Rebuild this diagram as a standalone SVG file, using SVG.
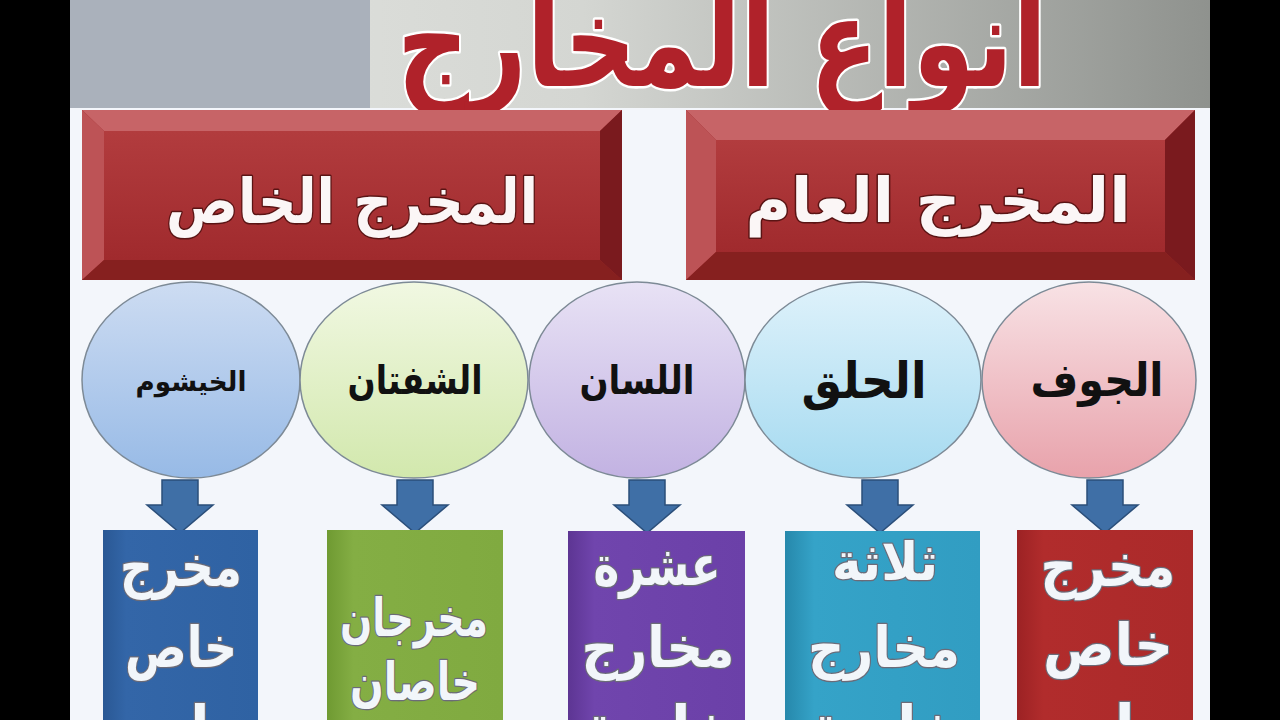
<svg xmlns="http://www.w3.org/2000/svg" width="1280" height="720" viewBox="0 0 1280 720">
<defs>
<style>
.ar{font-family:"DejaVu Sans","Noto Sans",sans-serif;font-weight:bold;text-anchor:middle}
.title{fill:#b0222a;stroke:#fff;stroke-width:5;paint-order:stroke;stroke-linejoin:round}
.hdr{fill:#fbf6f6;stroke:#5a1414;stroke-width:3;paint-order:stroke;stroke-linejoin:round}
.cir{fill:#111}
.box{fill:#f2f6fa;stroke:#6b6b78;stroke-width:2.5;paint-order:stroke;stroke-linejoin:round}
.circle{stroke:#7d8a96;stroke-width:1.5}
.arrow{fill:#3f6fa6;stroke:#2b4f7a;stroke-width:1.5}
</style>
<linearGradient id="hdrBg" x1="0" y1="0" x2="1" y2="0">
<stop offset="0" stop-color="#e3e5e1"/><stop offset="0.45" stop-color="#d4d6d2"/><stop offset="1" stop-color="#8f928e"/>
</linearGradient>
<linearGradient id="face" x1="0" y1="0" x2="0" y2="1">
<stop offset="0" stop-color="#b23c3e"/><stop offset="1" stop-color="#a02a2d"/>
</linearGradient>
<linearGradient id="gBlue" x1="0" y1="0" x2="0" y2="1"><stop offset="0" stop-color="#cddcf2"/><stop offset="1" stop-color="#97bae6"/></linearGradient>
<linearGradient id="gGreen" x1="0" y1="0" x2="0" y2="1"><stop offset="0" stop-color="#f1f8e2"/><stop offset="1" stop-color="#d2e8ad"/></linearGradient>
<linearGradient id="gPurple" x1="0" y1="0" x2="0" y2="1"><stop offset="0" stop-color="#e8e2f5"/><stop offset="1" stop-color="#c2b2e2"/></linearGradient>
<linearGradient id="gCyan" x1="0" y1="0" x2="0" y2="1"><stop offset="0" stop-color="#dff2fb"/><stop offset="1" stop-color="#a5daf0"/></linearGradient>
<linearGradient id="gPink" x1="0" y1="0" x2="0" y2="1"><stop offset="0" stop-color="#f8e2e5"/><stop offset="1" stop-color="#e8a2ab"/></linearGradient>
<linearGradient id="bBlue" x1="0" y1="0" x2="1" y2="0"><stop offset="0" stop-color="#2a5894"/><stop offset="0.15" stop-color="#3366a8"/><stop offset="1" stop-color="#2f62a3"/></linearGradient>
<linearGradient id="bGreen" x1="0" y1="0" x2="1" y2="0"><stop offset="0" stop-color="#6f9a32"/><stop offset="0.15" stop-color="#84ae44"/><stop offset="1" stop-color="#80aa40"/></linearGradient>
<linearGradient id="bPurple" x1="0" y1="0" x2="1" y2="0"><stop offset="0" stop-color="#5d3593"/><stop offset="0.15" stop-color="#7045ad"/><stop offset="1" stop-color="#6b40a8"/></linearGradient>
<linearGradient id="bTeal" x1="0" y1="0" x2="1" y2="0"><stop offset="0" stop-color="#2688ab"/><stop offset="0.15" stop-color="#35a3c8"/><stop offset="1" stop-color="#319dc2"/></linearGradient>
<linearGradient id="bRed" x1="0" y1="0" x2="1" y2="0"><stop offset="0" stop-color="#9c2224"/><stop offset="0.15" stop-color="#b12c2c"/><stop offset="1" stop-color="#ab2a2a"/></linearGradient>
</defs>

<rect x="0" y="0" width="1280" height="720" fill="#000"/>
<rect x="70" y="0" width="1140" height="720" fill="#f3f6fb"/>
<rect x="70" y="0" width="1140" height="108" fill="url(#hdrBg)"/>
<rect x="70" y="0" width="300" height="108" fill="#aab1bb"/>

<g id="title">
<text class="ar title" x="722" y="86" font-size="125" textLength="650" lengthAdjust="spacingAndGlyphs">أنواع المخارج</text>
</g>

<g id="node-special">
<rect x="82" y="110" width="540" height="170" fill="#9a2a2d"/>
<polygon points="82,110 622,110 600,131 104,131" fill="#c76467"/>
<polygon points="82,110 104,131 104,260 82,280" fill="#bd5356"/>
<polygon points="622,110 622,280 600,260 600,131" fill="#7a1a1e"/>
<polygon points="82,280 104,260 600,260 622,280" fill="#86201f"/>
<rect x="104" y="131" width="496" height="129" fill="url(#face)"/>
<text class="ar hdr" x="352" y="223" font-size="62" textLength="372" lengthAdjust="spacingAndGlyphs">المخرج الخاص</text>
</g>

<g id="node-general">
<rect x="686" y="110" width="509" height="170" fill="#9a2a2d"/>
<polygon points="686,110 1195,110 1165,140 716,140" fill="#c76467"/>
<polygon points="686,110 716,140 716,252 686,280" fill="#bd5356"/>
<polygon points="1195,110 1195,280 1165,252 1165,140" fill="#7a1a1e"/>
<polygon points="686,280 716,252 1165,252 1195,280" fill="#86201f"/>
<rect x="716" y="140" width="449" height="112" fill="url(#face)"/>
<text class="ar hdr" x="938" y="222" font-size="62" textLength="385" lengthAdjust="spacingAndGlyphs">المخرج العام</text>
</g>

<g id="node-khayshum">
<ellipse class="circle" cx="191" cy="380" rx="109" ry="98" fill="url(#gBlue)"/>
<text class="ar cir" x="191" y="391" font-size="27" textLength="111" lengthAdjust="spacingAndGlyphs">الخيشوم</text>
</g>
<g id="node-shafatan">
<ellipse class="circle" cx="414" cy="380" rx="114" ry="98" fill="url(#gGreen)"/>
<text class="ar cir" x="415" y="394" font-size="40" textLength="135" lengthAdjust="spacingAndGlyphs">الشفتان</text>
</g>
<g id="node-lisan">
<ellipse class="circle" cx="637" cy="380" rx="108" ry="98" fill="url(#gPurple)"/>
<text class="ar cir" x="637" y="394" font-size="40" textLength="115" lengthAdjust="spacingAndGlyphs">اللسان</text>
</g>
<g id="node-halq">
<ellipse class="circle" cx="863" cy="380" rx="118" ry="98" fill="url(#gCyan)"/>
<text class="ar cir" x="864" y="398" font-size="50" textLength="125" lengthAdjust="spacingAndGlyphs">الحلق</text>
</g>
<g id="node-jawf">
<ellipse class="circle" cx="1089" cy="380" rx="107" ry="98" fill="url(#gPink)"/>
<text class="ar cir" x="1097" y="396" font-size="46" textLength="133" lengthAdjust="spacingAndGlyphs">الجوف</text>
</g>

<g id="connectors">
<polygon class="arrow" points="162,480 198,480 198,505 213,505 180,533 147,505 162,505"/>
<polygon class="arrow" points="397,480 433,480 433,505 448,505 415,533 382,505 397,505"/>
<polygon class="arrow" points="629,480 665,480 665,505 680,505 647,533 614,505 629,505"/>
<polygon class="arrow" points="862,480 898,480 898,505 913,505 880,533 847,505 862,505"/>
<polygon class="arrow" points="1087,480 1123,480 1123,505 1138,505 1105,533 1072,505 1087,505"/>
</g>

<g id="box-khayshum">
<rect x="103" y="530" width="155" height="200" fill="url(#bBlue)"/>
<text class="ar box" x="181" y="586" font-size="56" textLength="122" lengthAdjust="spacingAndGlyphs">مخرج</text>
<text class="ar box" x="181" y="667" font-size="56" textLength="112" lengthAdjust="spacingAndGlyphs">خاص</text>
<text class="ar box" x="181" y="746" font-size="56">واحد</text>
</g>
<g id="box-shafatan">
<rect x="327" y="530" width="176" height="200" fill="url(#bGreen)"/>
<text class="ar box" x="414" y="636" font-size="52" textLength="148" lengthAdjust="spacingAndGlyphs">مخرجان</text>
<text class="ar box" x="415" y="700" font-size="52" textLength="130" lengthAdjust="spacingAndGlyphs">خاصان</text>
</g>
<g id="box-lisan">
<rect x="568" y="531" width="177" height="200" fill="url(#bPurple)"/>
<text class="ar box" x="657" y="585" font-size="56" textLength="127" lengthAdjust="spacingAndGlyphs">عشرة</text>
<text class="ar box" x="658" y="667" font-size="56" textLength="153" lengthAdjust="spacingAndGlyphs">مخارج</text>
<text class="ar box" x="658" y="746" font-size="56">خاصة</text>
</g>
<g id="box-halq">
<rect x="785" y="531" width="195" height="200" fill="url(#bTeal)"/>
<text class="ar box" x="885" y="580" font-size="52" textLength="106" lengthAdjust="spacingAndGlyphs">ثلاثة</text>
<text class="ar box" x="884" y="667" font-size="56" textLength="152" lengthAdjust="spacingAndGlyphs">مخارج</text>
<text class="ar box" x="884" y="746" font-size="56">خاصة</text>
</g>
<g id="box-jawf">
<rect x="1017" y="530" width="176" height="200" fill="url(#bRed)"/>
<text class="ar box" x="1108" y="586" font-size="58" textLength="135" lengthAdjust="spacingAndGlyphs">مخرج</text>
<text class="ar box" x="1108" y="665" font-size="58" textLength="130" lengthAdjust="spacingAndGlyphs">خاص</text>
<text class="ar box" x="1105" y="746" font-size="58">واحد</text>
</g>
</svg>
